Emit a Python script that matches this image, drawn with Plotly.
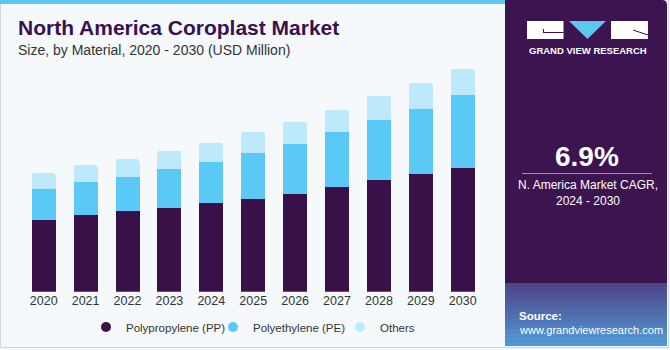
import plotly.graph_objects as go

# ---------------- data ----------------
years = [str(y) for y in range(2020, 2031)]
pp = [204.9, 220.0, 229.7, 240.0, 252.6, 264.9, 280.0, 298.3, 320.0, 337.1, 354.3]
pe = [87.7, 94.3, 98.9, 109.7, 118.9, 132.3, 141.1, 158.0, 171.4, 185.7, 207.7]
others = [45.7, 47.7, 50.6, 53.2, 53.4, 59.1, 63.7, 62.9, 67.7, 72.6, 73.4]
series_names = ["Polypropylene (PP)", "Polyethylene (PE)", "Others"]
highlight_year = "2023"
highlight_label = "$402.9M"
title = "North America Coroplast Market"
subtitle = "Size, by Material, 2020 - 2030 (USD Million)"
cagr_value = "6.9%"
cagr_text = "N. America Market CAGR,<br>2024 - 2030"
brand = "GRAND VIEW RESEARCH"
source_head = "Source:"
source_url = "www.grandviewresearch.com"

# ---------------- styles ----------------
colors = ["#3a1048", "#5bc9f5", "#bde9fa"]
BG = "#f5f9fc"
PANEL = "#3b1450"
FONT = "Liberation Sans, Arial, sans-serif"
W, H = 670, 350


def px(x):
    return x / W


def py(y):
    return 1 - y / H


fig = go.Figure()
for name, vals, col in zip(series_names, [pp, pe, others], colors):
    fig.add_trace(go.Bar(x=years, y=vals, name=name, marker=dict(color=col, line=dict(width=0)),
                         showlegend=False))
# legend entries with round markers
for name, col in zip(series_names, colors):
    fig.add_trace(go.Scatter(x=[None], y=[None], mode="markers", name=name,
                             marker=dict(color=col, size=10, symbol="circle")))

shapes = []
# outer border
shapes.append(dict(type="rect", xref="paper", yref="paper", x0=px(0.5), x1=px(668.5), y0=py(347.5), y1=py(-3),
                   line=dict(color="#cfd6dc", width=1), fillcolor="rgba(0,0,0,0)", layer="below"))
# top cyan strip
shapes.append(dict(type="rect", xref="paper", yref="paper", x0=0, x1=px(506), y0=py(4), y1=1,
                   line=dict(width=0), fillcolor="#5bc8f0", layer="below"))
# dark panel with rounded top-right corner
path = (f"M {px(505)},{py(0)} L {px(662)},{py(0)} Q {px(667)},{py(0)} {px(667)},{py(5)} "
        f"L {px(667)},{py(284)} L {px(505)},{py(284)} Z")
shapes.append(dict(type="path", xref="paper", yref="paper", path=path, fillcolor=PANEL,
                   line=dict(width=0), layer="below"))
# source gradient area
top_c = (78, 70, 136)
bot_c = (80, 150, 212)
n = 16
y0, y1 = 283.0, 346.0
for i in range(n):
    t = i / (n - 1)
    c = tuple(int(round(a + (b - a) * t)) for a, b in zip(top_c, bot_c))
    ya = y0 + (y1 - y0) * i / n
    yb = y0 + (y1 - y0) * (i + 1) / n + 0.6
    shapes.append(dict(type="rect", xref="paper", yref="paper", x0=px(505), x1=px(667),
                       y0=py(min(yb, y1)), y1=py(ya), line=dict(width=0),
                       fillcolor=f"rgb{c}", layer="below"))
# logo pieces
shapes.append(dict(type="rect", xref="paper", yref="paper", x0=px(527), x1=px(563.5), y0=py(39), y1=py(21),
                   fillcolor="white", line=dict(width=0)))
shapes.append(dict(type="line", xref="paper", yref="paper", x0=px(543), x1=px(563.5), y0=py(32.5), y1=py(32.5),
                   line=dict(color=PANEL, width=1)))
shapes.append(dict(type="line", xref="paper", yref="paper", x0=px(543.5), x1=px(543.5), y0=py(29), y1=py(33),
                   line=dict(color=PANEL, width=1)))
tri = f"M {px(569)},{py(21)} L {px(606)},{py(21)} L {px(587.5)},{py(39)} Z"
shapes.append(dict(type="path", xref="paper", yref="paper", path=tri, fillcolor="#5bc8f0", line=dict(width=0)))
shapes.append(dict(type="rect", xref="paper", yref="paper", x0=px(611), x1=px(648), y0=py(39), y1=py(21),
                   fillcolor="white", line=dict(width=0)))
shapes.append(dict(type="line", xref="paper", yref="paper", x0=px(633), x1=px(648), y0=py(30), y1=py(35),
                   line=dict(color=PANEL, width=1)))
# divider under CAGR
shapes.append(dict(type="line", xref="paper", yref="paper", x0=px(522), x1=px(652), y0=py(173.5), y1=py(173.5),
                   line=dict(color="#9f90b4", width=1)))

annotations = [
    dict(xref="paper", yref="paper", x=px(16), y=py(28), xanchor="left", yanchor="middle", showarrow=False,
         text=f"<b>{title}</b>", font=dict(family=FONT, size=21, color="#3a1150")),
    dict(xref="paper", yref="paper", x=px(16), y=py(49.5), xanchor="left", yanchor="middle", showarrow=False,
         text=subtitle, font=dict(family=FONT, size=14, color="#333333")),
    dict(x=highlight_year, y=pp[3] + pe[3] + others[3], xref="x", yref="y", yanchor="bottom", yshift=10,
         showarrow=False, text=highlight_label, font=dict(family=FONT, size=14, color="#333333")),
    dict(xref="paper", yref="paper", x=px(587.5), y=py(51), xanchor="center", yanchor="middle", showarrow=False,
         text=f"<b>{brand}</b>", font=dict(family=FONT, size=9.5, color="white")),
    dict(xref="paper", yref="paper", x=px(587), y=py(156), xanchor="center", yanchor="middle", showarrow=False,
         text=f"<b>{cagr_value}</b>", font=dict(family=FONT, size=28, color="white")),
    dict(xref="paper", yref="paper", x=px(587.5), y=py(193), xanchor="center", yanchor="middle", showarrow=False,
         text=cagr_text, font=dict(family=FONT, size=12, color="white")),
    dict(xref="paper", yref="paper", x=px(517), y=py(316), xanchor="left", yanchor="middle", showarrow=False,
         text=f"<b>{source_head}</b>", font=dict(family=FONT, size=11.5, color="white")),
    dict(xref="paper", yref="paper", x=px(517), y=py(330), xanchor="left", yanchor="middle", showarrow=False,
         text=source_url, font=dict(family=FONT, size=11, color="white")),
]

fig.update_layout(
    width=W, height=H, margin=dict(l=0, r=0, t=0, b=0),
    paper_bgcolor=BG, plot_bgcolor="rgba(0,0,0,0)",
    barmode="stack", bargap=0.427, barcornerradius=3,
    shapes=shapes, annotations=annotations,
    font=dict(family=FONT, color="#333333"),
    showlegend=True,
    legend=dict(orientation="h", x=px(86), xanchor="left", y=py(327), yanchor="middle",
                traceorder="normal", bgcolor="rgba(0,0,0,0)", entrywidth=82,
                font=dict(family=FONT, size=11.5, color="#333333"),
                itemclick=False),
    xaxis=dict(domain=[px(22.75), px(483.7)], range=[-0.5, 10.5], type="category",
               showgrid=False, zeroline=False, showline=False, ticks="",
               tickfont=dict(family=FONT, size=12.5, color="#333333"), fixedrange=True),
    yaxis=dict(domain=[py(291.7), py(46.7)], range=[0, 700], visible=False, showgrid=False,
               fixedrange=True),
)

fig.write_html("out.html")
